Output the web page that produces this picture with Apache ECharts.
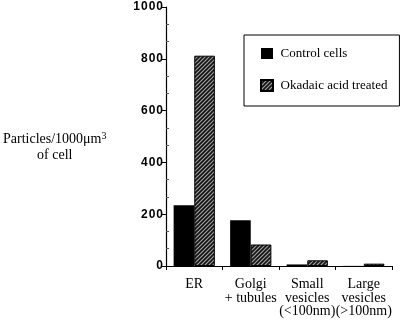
<!DOCTYPE html>
<html><head><meta charset="utf-8">
<script src="https://cdn.jsdelivr.net/npm/echarts@6/dist/echarts.min.js"></script>
<style>html,body{margin:0;padding:0;background:#fff}#c{width:400px;height:321px}</style>
</head><body><div id="c"></div>
<script>
const categories = ['ER', 'Golgi\n+ tubules', 'Small\nvesicles\n(<100nm)', 'Large\nvesicles\n(>100nm)'];
const controlValues = [235, 177, 6, 0.5];
const okadaicValues = [812, 83, 22, 9];
const yTicks = [0, 200, 400, 600, 800, 1000];
const seriesNames = ['Control cells', 'Okadaic acid treated'];

function hatch() {
  const c = document.createElement('canvas');
  c.width = 4; c.height = 4;
  const g = c.getContext('2d');
  g.fillStyle = '#a0a0a0'; g.fillRect(0, 0, 4, 4);
  g.strokeStyle = '#111'; g.lineWidth = 1.6;
  g.beginPath();
  g.moveTo(0, 4); g.lineTo(4, 0);
  g.moveTo(-1, 1); g.lineTo(1, -1);
  g.moveTo(3, 5); g.lineTo(5, 3);
  g.stroke();
  return c;
}

const chart = echarts.init(document.getElementById('c'), null, {renderer: 'canvas'});
const serif = '"Liberation Serif", "Times New Roman", serif';
chart.setOption({
  animation: false,
  grid: {left: 166, right: 8, top: 7, bottom: 55, containLabel: false},
  legend: {
    orient: 'vertical', left: 244, top: 35,
    padding: [12, 12, 14, 16], itemGap: 19,
    itemWidth: 12, itemHeight: 11,
    borderColor: '#000', borderWidth: 1,
    textStyle: {fontFamily: serif, fontSize: 13, color: '#000'},
    formatter: n => '\u2009' + n,
    data: seriesNames.map(n => ({name: n, icon: 'rect'}))
  },
  xAxis: {
    type: 'category', data: categories,
    axisLine: {lineStyle: {color: '#000', width: 1.2}},
    axisTick: {show: true, length: 4, lineStyle: {color: '#000'}},
    axisLabel: {fontFamily: serif, fontSize: 14, color: '#000', lineHeight: 13.5, margin: 12, interval: 0}
  },
  yAxis: [{
    type: 'value', min: yTicks[0], max: yTicks[yTicks.length - 1], interval: 200,
    splitLine: {show: false},
    axisLine: {show: true, lineStyle: {color: '#000', width: 1.2}},
    axisTick: {show: true, length: 5, lineStyle: {color: '#000'}},
    axisLabel: {fontFamily: 'Arial, "Liberation Sans", sans-serif', fontWeight: 'bold', fontSize: 12, color: '#000', margin: 3,
      formatter: v => String(v).split('').join('\u200A')}
  }, {
    type: 'value', min: yTicks[0], max: yTicks[yTicks.length - 1], interval: 200, position: 'left',
    splitLine: {show: false},
    axisLine: {show: false},
    axisTick: {show: false, inside: true},
    axisLabel: {show: false},
    minorTick: {show: true, splitNumber: 3, length: 3, lineStyle: {color: '#555'}}
  }],
  series: [{
    name: seriesNames[0], type: 'bar', data: controlValues,
    barGap: '0%', barCategoryGap: '27%',
    itemStyle: {color: '#000'}
  }, {
    name: seriesNames[1], type: 'bar', data: okadaicValues,
    itemStyle: {color: {image: hatch(), repeat: 'repeat'}, borderColor: '#000', borderWidth: 1}
  }],
  graphic: [{
    type: 'text', left: 3, top: 131,
    style: {
      text: '{a|Particles/1000μm}{s|3}\n{a|of cell}',
      align: 'center',
      rich: {
        a: {fontFamily: serif, fontSize: 14, color: '#000', lineHeight: 16, align: 'center'},
        s: {fontFamily: serif, fontSize: 10, color: '#000', verticalAlign: 'top', lineHeight: 16, padding: [0, 0, 8, 0]}
      }
    }
  }]
});
</script></body></html>
